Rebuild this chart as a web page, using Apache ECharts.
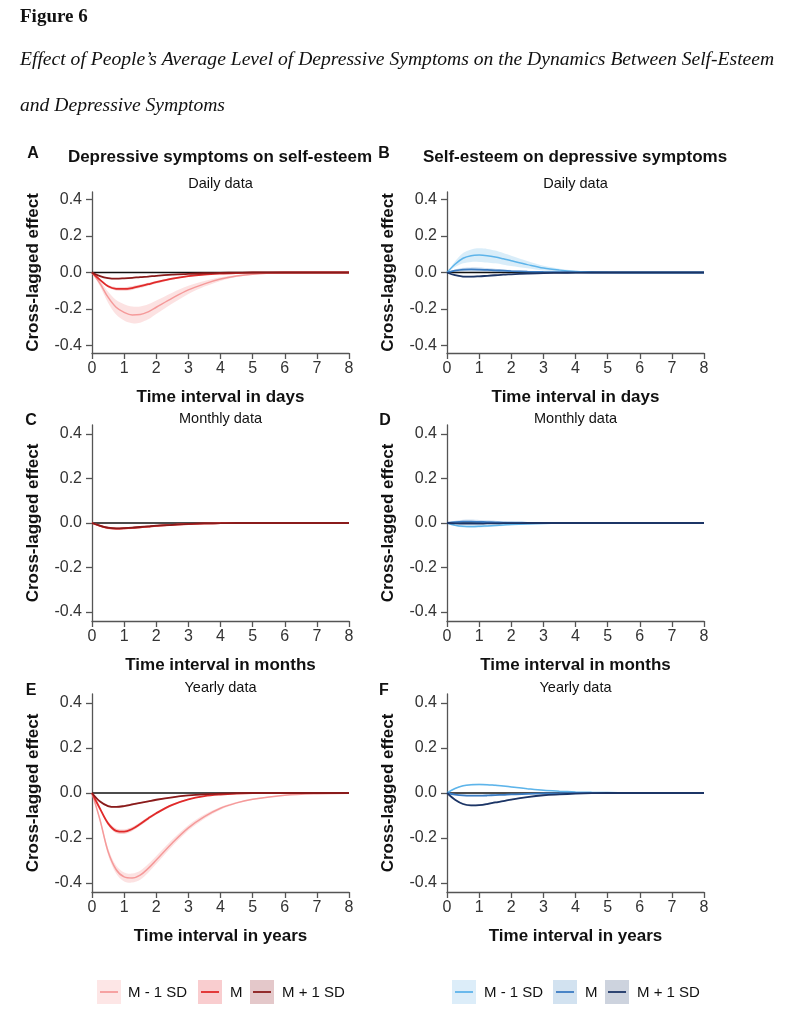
<!DOCTYPE html>
<html>
<head>
<meta charset="utf-8">
<script src="https://cdn.jsdelivr.net/npm/echarts@6/dist/echarts.min.js"></script>
<style>
html,body{margin:0;padding:0;background:#fff;}
#chart{width:789px;height:1011px;}
</style>
</head>
<body>
<div id="chart"></div>
<script>
// ---- shared time grid (x values) ----
var T = [0, 0.25, 0.5, 0.75, 1, 1.25, 1.5, 1.75, 2, 2.5, 3, 3.5, 4, 4.5, 5, 6, 7, 8];
var X_TICKS = [0, 1, 2, 3, 4, 5, 6, 7, 8];
var Y_TICKS = [-0.4, -0.2, 0, 0.2, 0.4];
var ZERO_X = [0, 8];

// ---- Panel A: depressive symptoms -> self-esteem, daily ----
var A_lowMean  = [0, -0.06, -0.135, -0.19, -0.218, -0.232, -0.23, -0.215, -0.19, -0.14, -0.095, -0.062, -0.036, -0.019, -0.009, -0.002, 0, 0];
var A_lowCI    = [0, 0.015, 0.03, 0.04, 0.045, 0.046, 0.044, 0.041, 0.037, 0.03, 0.022, 0.015, 0.01, 0.006, 0.003, 0.001, 0, 0];
var A_midMean  = [0, -0.04, -0.075, -0.089, -0.09, -0.085, -0.075, -0.064, -0.053, -0.034, -0.02, -0.011, -0.006, -0.003, -0.001, 0, 0, 0];
var A_midCI    = [0, 0.004, 0.007, 0.009, 0.01, 0.01, 0.009, 0.008, 0.007, 0.005, 0.003, 0.002, 0.001, 0, 0, 0, 0, 0];
var A_highMean = [0, -0.02, -0.031, -0.034, -0.032, -0.029, -0.025, -0.022, -0.018, -0.012, -0.007, -0.004, -0.002, -0.001, 0, 0, 0, 0];
var A_highCI   = [0, 0.002, 0.003, 0.003, 0.003, 0.003, 0.003, 0.002, 0.002, 0.002, 0.001, 0.001, 0, 0, 0, 0, 0, 0];

// ---- Panel B: self-esteem -> depressive symptoms, daily ----
var B_lowMean  = [0, 0.045, 0.078, 0.092, 0.095, 0.092, 0.085, 0.075, 0.064, 0.043, 0.024, 0.013, 0.006, 0.003, 0.001, 0, 0, 0];
var B_lowCI    = [0, 0.015, 0.028, 0.034, 0.037, 0.037, 0.035, 0.032, 0.028, 0.02, 0.013, 0.008, 0.004, 0.002, 0.001, 0, 0, 0];
var B_midMean  = [0, 0.01, 0.016, 0.017, 0.016, 0.014, 0.012, 0.01, 0.008, 0.005, 0.003, 0.002, 0.001, 0, 0, 0, 0, 0];
var B_midCI    = [0, 0.006, 0.01, 0.011, 0.011, 0.01, 0.009, 0.008, 0.006, 0.004, 0.002, 0.001, 0, 0, 0, 0, 0, 0];
var B_highMean = [0, -0.015, -0.022, -0.023, -0.021, -0.018, -0.015, -0.012, -0.01, -0.006, -0.003, -0.002, -0.001, 0, 0, 0, 0, 0];
var B_highCI   = [0, 0.003, 0.004, 0.004, 0.004, 0.004, 0.003, 0.003, 0.002, 0.002, 0.001, 0, 0, 0, 0, 0, 0, 0];

// ---- Panel C: depressive symptoms -> self-esteem, monthly ----
var C_lowMean  = [0, -0.014, -0.024, -0.026, -0.025, -0.023, -0.02, -0.017, -0.014, -0.009, -0.005, -0.003, -0.001, 0, 0, 0, 0, 0];
var C_lowCI    = [0, 0.002, 0.004, 0.004, 0.004, 0.004, 0.003, 0.003, 0.003, 0.002, 0.001, 0.001, 0, 0, 0, 0, 0, 0];
var C_midMean  = [0, -0.013, -0.022, -0.025, -0.024, -0.022, -0.019, -0.016, -0.013, -0.008, -0.005, -0.002, -0.001, 0, 0, 0, 0, 0];
var C_midCI    = [0, 0.002, 0.003, 0.003, 0.003, 0.003, 0.003, 0.002, 0.002, 0.001, 0.001, 0, 0, 0, 0, 0, 0, 0];
var C_highMean = [0, -0.012, -0.021, -0.024, -0.023, -0.021, -0.018, -0.015, -0.012, -0.008, -0.004, -0.002, -0.001, 0, 0, 0, 0, 0];
var C_highCI   = [0, 0.002, 0.003, 0.003, 0.003, 0.003, 0.002, 0.002, 0.002, 0.001, 0.001, 0, 0, 0, 0, 0, 0, 0];

// ---- Panel D: self-esteem -> depressive symptoms, monthly ----
var D_lowMean  = [0, -0.01, -0.015, -0.016, -0.015, -0.013, -0.011, -0.009, -0.007, -0.004, -0.002, -0.001, 0, 0, 0, 0, 0, 0];
var D_lowCI    = [0, 0.003, 0.005, 0.006, 0.006, 0.005, 0.005, 0.004, 0.003, 0.002, 0.001, 0, 0, 0, 0, 0, 0, 0];
var D_midMean  = [0, 0.004, 0.006, 0.006, 0.005, 0.004, 0.003, 0.002, 0.002, 0.001, 0, 0, 0, 0, 0, 0, 0, 0];
var D_midCI    = [0, 0.006, 0.009, 0.01, 0.009, 0.008, 0.007, 0.005, 0.004, 0.002, 0.001, 0, 0, 0, 0, 0, 0, 0];
var D_highMean = [0, -0.002, -0.003, -0.003, -0.003, -0.002, -0.002, -0.001, -0.001, 0, 0, 0, 0, 0, 0, 0, 0, 0];
var D_highCI   = [0, 0.002, 0.003, 0.003, 0.003, 0.002, 0.002, 0.002, 0.001, 0.001, 0, 0, 0, 0, 0, 0, 0, 0];

// ---- Panel E: depressive symptoms -> self-esteem, yearly ----
var E_lowMean  = [0, -0.12, -0.26, -0.34, -0.373, -0.378, -0.365, -0.335, -0.298, -0.222, -0.155, -0.105, -0.068, -0.044, -0.028, -0.01, -0.003, -0.001];
var E_lowCI    = [0, 0.008, 0.015, 0.018, 0.02, 0.02, 0.02, 0.019, 0.018, 0.015, 0.012, 0.009, 0.006, 0.004, 0.003, 0.001, 0, 0];
var E_midMean  = [0, -0.07, -0.135, -0.168, -0.172, -0.16, -0.138, -0.113, -0.09, -0.053, -0.028, -0.014, -0.007, -0.003, -0.001, 0, 0, 0];
var E_midCI    = [0, 0.004, 0.008, 0.01, 0.01, 0.009, 0.008, 0.007, 0.006, 0.004, 0.002, 0.001, 0, 0, 0, 0, 0, 0];
var E_highMean = [0, -0.038, -0.058, -0.062, -0.058, -0.051, -0.044, -0.037, -0.03, -0.019, -0.011, -0.006, -0.003, -0.001, 0, 0, 0, 0];
var E_highCI   = [0, 0.002, 0.004, 0.004, 0.004, 0.004, 0.003, 0.003, 0.003, 0.002, 0.001, 0.001, 0, 0, 0, 0, 0, 0];

// ---- Panel F: self-esteem -> depressive symptoms, yearly ----
var F_lowMean  = [0, 0.02, 0.032, 0.037, 0.038, 0.037, 0.034, 0.031, 0.027, 0.019, 0.012, 0.008, 0.005, 0.003, 0.002, 0, 0, 0];
var F_lowCI    = [0, 0.002, 0.003, 0.004, 0.004, 0.004, 0.004, 0.003, 0.003, 0.002, 0.002, 0.001, 0.001, 0, 0, 0, 0, 0];
var F_midMean  = [0, -0.007, -0.011, -0.012, -0.012, -0.011, -0.009, -0.008, -0.006, -0.004, -0.002, -0.001, 0, 0, 0, 0, 0, 0];
var F_midCI    = [0, 0.002, 0.003, 0.003, 0.003, 0.003, 0.003, 0.002, 0.002, 0.001, 0.001, 0, 0, 0, 0, 0, 0, 0];
var F_highMean = [0, -0.03, -0.049, -0.055, -0.054, -0.049, -0.042, -0.036, -0.029, -0.018, -0.01, -0.006, -0.003, -0.001, 0, 0, 0, 0];
var F_highCI   = [0, 0.002, 0.004, 0.004, 0.004, 0.004, 0.004, 0.003, 0.003, 0.002, 0.001, 0.001, 0, 0, 0, 0, 0, 0];

// ---- Texts ----
var PANEL_LETTERS = ['A', 'B', 'C', 'D', 'E', 'F'];
var SUBTITLES = ['Daily data', 'Daily data', 'Monthly data', 'Monthly data', 'Yearly data', 'Yearly data'];
var X_TITLES = ['Time interval in days', 'Time interval in days', 'Time interval in months', 'Time interval in months', 'Time interval in years', 'Time interval in years'];
var Y_TITLE = 'Cross-lagged effect';
var COLUMN_TITLES = ['Depressive symptoms on self-esteem', 'Self-esteem on depressive symptoms'];
var LEGEND_LABELS = ['M - 1 SD', 'M', 'M + 1 SD'];

// ---- styles ----
var RED = {
  line: ['#f59a9a', '#e02a2a', '#8a1b1b'],
  band: ['rgba(245,140,140,0.25)', 'rgba(226,40,40,0.22)', 'rgba(139,27,27,0.24)'],
  box:  ['#fde6e6', '#f9cdcf', '#e4c8ca']
};
var BLUE = {
  line: ['#5db4ea', '#3a7bc2', '#1c3566'],
  band: ['rgba(95,179,232,0.24)', 'rgba(58,123,191,0.23)', 'rgba(28,53,102,0.22)'],
  box:  ['#dcedf9', '#d2e2f0', '#cdd3de']
};

var panels = [
  {curves: [[A_lowMean, A_lowCI], [A_midMean, A_midCI], [A_highMean, A_highCI]], pal: RED},
  {curves: [[B_lowMean, B_lowCI], [B_midMean, B_midCI], [B_highMean, B_highCI]], pal: BLUE},
  {curves: [[C_lowMean, C_lowCI], [C_midMean, C_midCI], [C_highMean, C_highCI]], pal: RED},
  {curves: [[D_lowMean, D_lowCI], [D_midMean, D_midCI], [D_highMean, D_highCI]], pal: BLUE},
  {curves: [[E_lowMean, E_lowCI], [E_midMean, E_midCI], [E_highMean, E_highCI]], pal: RED},
  {curves: [[F_lowMean, F_lowCI], [F_midMean, F_midCI], [F_highMean, F_highCI]], pal: BLUE}
];

var GRID_BOX = [
  {left: 92, top: 192, width: 257, height: 161},
  {left: 447, top: 192, width: 257, height: 161},
  {left: 92, top: 425, width: 257, height: 196},
  {left: 447, top: 425, width: 257, height: 196},
  {left: 92, top: 694, width: 257, height: 198},
  {left: 447, top: 694, width: 257, height: 198}
];

var SANS = '"Liberation Sans", Arial, Helvetica, sans-serif';
var SERIF = '"Liberation Serif", "Times New Roman", serif';
var AXIS_COLOR = '#555';

function bandSeries(i, mean, ci, color) {
  var pts = T.map(function (t, j) { return [t, mean[j] - ci[j], mean[j] + ci[j]]; });
  return {
    type: 'custom', xAxisIndex: i, yAxisIndex: i, silent: true, z: 1,
    data: pts,
    encode: {x: 0, y: [1, 2]},
    renderItem: function (params, api) {
      if (params.dataIndex !== 0) return null;
      var upper = [], lower = [];
      for (var j = 0; j < pts.length; j++) {
        upper.push(api.coord([pts[j][0], pts[j][2]]));
        lower.push(api.coord([pts[j][0], pts[j][1]]));
      }
      var poly = upper.concat(lower.reverse());
      return {
        type: 'polygon',
        shape: {points: poly, smooth: 0.3},
        style: {fill: color, stroke: null}
      };
    }
  };
}

var grids = [], xAxes = [], yAxes = [], series = [];
panels.forEach(function (p, i) {
  grids.push(Object.assign({containLabel: false}, GRID_BOX[i]));
  xAxes.push({
    type: 'value', gridIndex: i, min: 0, max: 8, interval: 1,
    axisLine: {show: true, onZero: false, lineStyle: {color: AXIS_COLOR, width: 1.3}},
    axisTick: {show: true, length: 6, lineStyle: {color: AXIS_COLOR, width: 1.3}},
    axisLabel: {color: '#333', fontSize: 16, fontFamily: SANS, margin: 8,
      customValues: X_TICKS},
    splitLine: {show: false},
    name: X_TITLES[i], nameLocation: 'middle', nameGap: 36,
    nameTextStyle: {fontSize: 17, fontWeight: 'bold', color: '#111', fontFamily: SANS}
  });
  yAxes.push({
    type: 'value', gridIndex: i, min: -0.44, max: 0.44,
    axisLine: {show: true, onZero: false, lineStyle: {color: AXIS_COLOR, width: 1.3}},
    axisTick: {show: true, length: 6, lineStyle: {color: AXIS_COLOR, width: 1.3}, customValues: Y_TICKS},
    axisLabel: {color: '#333', fontSize: 16, fontFamily: SANS, margin: 10, customValues: Y_TICKS,
      formatter: function (v) { return (Math.round(v * 10) / 10).toFixed(1); }},
    splitLine: {show: false},
    name: Y_TITLE, nameLocation: 'middle', nameGap: 50,
    nameTextStyle: {fontSize: 17, fontWeight: 'bold', color: '#111', fontFamily: SANS}
  });

  // confidence bands
  p.curves.forEach(function (c, k) {
    series.push(bandSeries(i, c[0], c[1], p.pal.band[k]));
  });
  // zero reference line
  series.push({
    type: 'line', xAxisIndex: i, yAxisIndex: i,
    data: ZERO_X.map(function (t) { return [t, 0]; }),
    symbol: 'none', silent: true, lineStyle: {color: '#111', width: 1.5}, z: 2
  });
  // mean curves
  p.curves.forEach(function (c, k) {
    var mean = c[0];
    series.push({
      type: 'line', xAxisIndex: i, yAxisIndex: i, name: LEGEND_LABELS[k],
      data: T.map(function (t, j) { return [t, mean[j]]; }),
      smooth: 0.35, symbol: 'none', silent: true,
      lineStyle: {color: p.pal.line[k], width: k === 0 ? 1.5 : 1.8}, z: 3 + k
    });
  });
});

// ---- graphic texts ----
var graphics = [];
function txt(x, y, text, font, align, extra) {
  graphics.push({type: 'text', x: x, y: y, silent: true,
    style: Object.assign({text: text, font: font, fill: '#111', textAlign: align || 'left', textVerticalAlign: 'middle'}, extra || {})});
}
txt(20, 17, 'Figure 6', 'bold 19px ' + SERIF);
txt(20, 60, 'Effect of People\u2019s Average Level of Depressive Symptoms on the Dynamics Between Self-Esteem', 'italic 19.6px ' + SERIF);
txt(20, 106, 'and Depressive Symptoms', 'italic 19.6px ' + SERIF);
txt(220, 157, COLUMN_TITLES[0], 'bold 17px ' + SANS, 'center');
txt(575, 157, COLUMN_TITLES[1], 'bold 17px ' + SANS, 'center');

var LETTER_POS = [[33, 154], [384, 154], [31, 421], [385, 421], [31, 691], [384, 691]];
var SUB_Y = [184, 184, 419, 419, 688, 688];
PANEL_LETTERS.forEach(function (L, i) {
  txt(LETTER_POS[i][0], LETTER_POS[i][1], L, 'bold 16px ' + SANS, 'center');
  txt(GRID_BOX[i].left + GRID_BOX[i].width / 2, SUB_Y[i], SUBTITLES[i], '14.5px ' + SANS, 'center');
});

// ---- legends ----
function legend(boxXs, textXs, pal) {
  for (var k = 0; k < 3; k++) {
    graphics.push({type: 'rect', silent: true, shape: {x: boxXs[k], y: 980, width: 24, height: 24}, style: {fill: pal.box[k]}});
    graphics.push({type: 'line', silent: true, shape: {x1: boxXs[k] + 3, y1: 992, x2: boxXs[k] + 21, y2: 992}, style: {stroke: pal.line[k], lineWidth: 1.8}});
    txt(textXs[k], 993, LEGEND_LABELS[k], '15px ' + SANS, 'left');
  }
}
legend([97, 198, 250], [128, 230, 282], RED);
legend([452, 553, 605], [484, 585, 637], BLUE);

var chart = echarts.init(document.getElementById('chart'), null, {renderer: 'canvas'});
chart.setOption({
  backgroundColor: '#fff',
  animation: false,
  grid: grids,
  xAxis: xAxes,
  yAxis: yAxes,
  series: series,
  graphic: graphics
});
</script>
</body>
</html>
